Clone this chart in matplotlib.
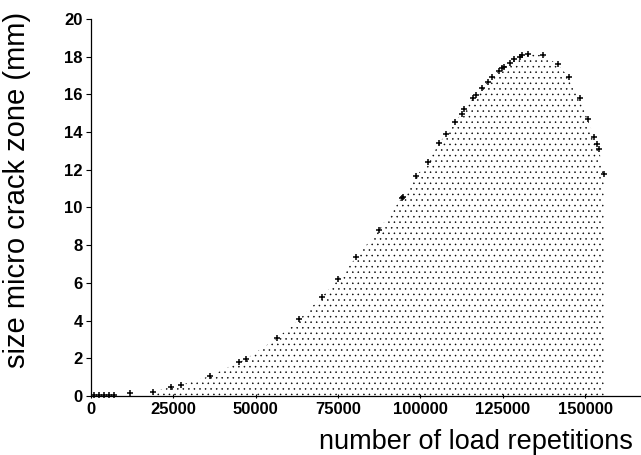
import numpy as np
import matplotlib
matplotlib.use("Agg")
from matplotlib import pyplot as plt

# measured points: load repetitions vs size of the micro crack zone (mm)
repetitions = [900, 2400, 4000, 5500, 7000, 11900,
               18900, 24300, 27400, 36200, 45000, 47100, 56600, 63300,
               70000, 75100, 80600, 87300, 94300, 94600, 98800, 102200,
               105800, 107700, 110400, 112500, 113400, 115900, 116800,
               118600, 120400, 121900, 123800, 124700, 125300, 127100,
               128300, 130200, 130800, 132600, 137100, 141700, 145100,
               148400, 150800, 152700, 153600, 154200, 155700]
crack_size = [0.02, 0.03, 0.04, 0.05, 0.07, 0.15,
              0.21, 0.48, 0.58, 1.06, 1.80, 1.96, 3.08, 4.08,
              5.25, 6.20, 7.37, 8.80, 10.50, 10.56, 11.67, 12.41,
              13.42, 13.90, 14.54, 14.96, 15.23, 15.80, 15.97,
              16.34, 16.66, 16.92, 17.24, 17.40, 17.45, 17.67,
              17.88, 17.98, 18.09, 18.14, 18.09, 17.60, 16.92,
              15.80, 14.70, 13.74, 13.37, 13.10, 11.78]
x_ticks = [0, 25000, 50000, 75000, 100000, 125000, 150000]
y_ticks = [0, 2, 4, 6, 8, 10, 12, 14, 16, 18, 20]

plt.rcParams['font.family'] = ['Liberation Sans', 'DejaVu Sans']
plt.rcParams['hatch.linewidth'] = 0.35
plt.rcParams['hatch.color'] = 'black'

fig = plt.figure(figsize=(6.41, 4.55), dpi=100)
ax = fig.add_axes([0.142, 0.130, 0.858, 0.828])

x = np.array(repetitions)
y = np.array(crack_size)

# dotted area under the curve (starts where the zone becomes visible)
mask = x >= 18000
ax.fill_between(x[mask], 0, y[mask], facecolor='none', edgecolor='black',
                linewidth=0, hatch='...')
ax.plot(x, y, '+', color='black', markersize=5, markeredgewidth=1.1,
        clip_on=False)

ax.set_xlim(0, 167000)
ax.set_ylim(0, 20)
ax.set_xticks(x_ticks)
ax.set_yticks(y_ticks)
ax.set_xticklabels([str(t) for t in x_ticks], fontsize=12, fontweight='bold')
ax.set_yticklabels([str(t) for t in y_ticks], fontsize=12, fontweight='bold')
ax.tick_params(axis='y', direction='out', length=3.5, width=0.8, pad=2.5)
ax.tick_params(axis='x', direction='inout', length=3, width=0.8, pad=3)

for side in ['top', 'right']:
    ax.spines[side].set_visible(False)
for side in ['left', 'bottom']:
    ax.spines[side].set_linewidth(0.9)

fig.text(0.027, 0.582, 'size micro crack zone (mm)', rotation=90,
         ha='center', va='center', fontsize=21)
fig.text(0.988, 0.013, 'number of load repetitions', ha='right',
         va='baseline', fontsize=19.5)

fig.savefig('out.png', dpi=100)
